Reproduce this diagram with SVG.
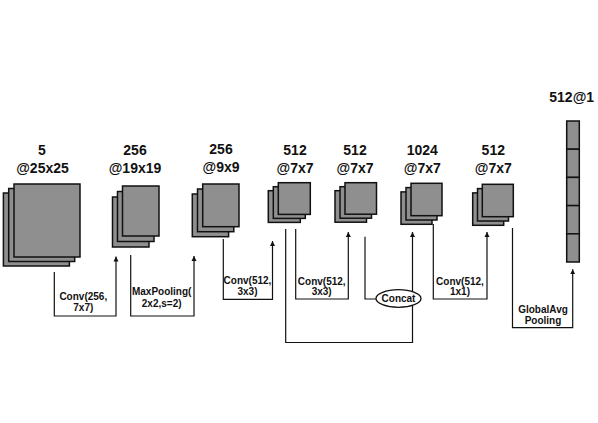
<svg xmlns="http://www.w3.org/2000/svg" width="598" height="423" viewBox="0 0 598 423">
<style>
.fm{fill:#8f8f8f;stroke:#111;stroke-width:1.5}
.hd{font-family:"Liberation Sans",Arial,sans-serif;font-weight:bold;font-size:14px;text-anchor:middle;fill:#111}
.sm{font-family:"Liberation Sans",Arial,sans-serif;font-weight:bold;font-size:10px;text-anchor:middle;fill:#111}
.ln{fill:none;stroke:#111;stroke-width:1.2}
</style>
<defs>
<marker id="ah" viewBox="0 0 10 10" refX="10" refY="5" markerWidth="5" markerHeight="7" markerUnits="userSpaceOnUse" orient="auto">
<path d="M0,0 L10,5 L0,10 z" fill="#111"/>
</marker>
</defs>
<rect width="598" height="423" fill="#fff"/>

<g id="n1">
<rect class="fm" x="3.4" y="193" width="66" height="73"/>
<rect class="fm" x="8.7" y="188.5" width="66" height="73"/>
<rect class="fm" x="14" y="184" width="66" height="73"/>
<text class="hd" x="42" y="155">5</text>
<text class="hd" x="42.5" y="173">@25x25</text>
</g>
<g id="n2">
<rect class="fm" x="112.5" y="197" width="36.5" height="50"/>
<rect class="fm" x="117.5" y="191.5" width="36.5" height="50"/>
<rect class="fm" x="122.5" y="186" width="36.5" height="50"/>
<text class="hd" x="135" y="155">256</text>
<text class="hd" x="135" y="173">@19x19</text>
</g>
<g id="n3">
<rect class="fm" x="192.3" y="194" width="36.3" height="42.7"/>
<rect class="fm" x="197.5" y="189" width="36.3" height="42.7"/>
<rect class="fm" x="202.7" y="184" width="36.3" height="42.7"/>
<text class="hd" x="221" y="153.5">256</text>
<text class="hd" x="221" y="171.7">@9x9</text>
</g>
<g id="n4">
<rect class="fm" x="268.3" y="190.7" width="32" height="31.7"/>
<rect class="fm" x="273.3" y="186.7" width="32" height="31.7"/>
<rect class="fm" x="278.3" y="182.7" width="32" height="31.7"/>
<text class="hd" x="295" y="155">512</text>
<text class="hd" x="295" y="172.7">@7x7</text>
</g>
<g id="n5">
<rect class="fm" x="335" y="190.7" width="31.5" height="31.5"/>
<rect class="fm" x="340" y="186.7" width="31.5" height="31.5"/>
<rect class="fm" x="345" y="182.7" width="31.5" height="31.5"/>
<text class="hd" x="355" y="155">512</text>
<text class="hd" x="355" y="172.7">@7x7</text>
</g>
<g id="n6">
<rect class="fm" x="401" y="191.9" width="31" height="32.4"/>
<rect class="fm" x="406" y="187.6" width="31" height="32.4"/>
<rect class="fm" x="411" y="183.3" width="31" height="32.4"/>
<text class="hd" x="422.3" y="155">1024</text>
<text class="hd" x="422.3" y="172.7">@7x7</text>
</g>
<g id="n7">
<rect class="fm" x="472.7" y="192.9" width="31" height="32.4"/>
<rect class="fm" x="477.5" y="188.6" width="31" height="32.4"/>
<rect class="fm" x="482.3" y="184.3" width="31" height="32.4"/>
<text class="hd" x="493.3" y="155">512</text>
<text class="hd" x="493.3" y="172.7">@7x7</text>
</g>
<g id="n8">
<rect class="fm" x="566.7" y="121" width="12.6" height="28.2"/>
<rect class="fm" x="566.7" y="149.2" width="12.6" height="28.2"/>
<rect class="fm" x="566.7" y="177.4" width="12.6" height="28.2"/>
<rect class="fm" x="566.7" y="205.6" width="12.6" height="28.2"/>
<rect class="fm" x="566.7" y="233.8" width="12.6" height="28.2"/>
<text class="hd" x="571.7" y="102">512@1</text>
</g>

<g id="connectors">
<path class="ln" d="M54.3,272 V316 H116 V256.5" marker-end="url(#ah)"/>
<path class="ln" d="M130.7,255 V316 H194 V256" marker-end="url(#ah)"/>
<path class="ln" d="M223.3,239 V299.3 H272.5 V241" marker-end="url(#ah)"/>
<path class="ln" d="M285.7,229 V342.5 H412.5 V232" marker-end="url(#ah)"/>
<path class="ln" d="M295.7,229 V299 H348.3 V232" marker-end="url(#ah)"/>
<path class="ln" d="M365,236.7 V299 H376"/>
<path class="ln" d="M433.3,224 V299 H487 V232" marker-end="url(#ah)"/>
<path class="ln" d="M512.5,228 V327.7 H572.7 V269.3" marker-end="url(#ah)"/>
</g>

<g id="concat">
<ellipse cx="398.5" cy="298.5" rx="22.5" ry="8.8" fill="#fff" stroke="#111" stroke-width="1.3"/>
<text class="sm" x="398.5" y="302">Concat</text>
</g>

<g id="labels">
<text class="sm" x="83.3" y="300">Conv(256,</text>
<text class="sm" x="83.3" y="311">7x7)</text>
<text class="sm" x="161.7" y="294.5">MaxPooling(</text>
<text class="sm" x="161.7" y="307">2x2,s=2)</text>
<text class="sm" x="247.5" y="284">Conv(512,</text>
<text class="sm" x="247.5" y="294.5">3x3)</text>
<text class="sm" x="321.7" y="285">Conv(512,</text>
<text class="sm" x="321.7" y="295">3x3)</text>
<text class="sm" x="460" y="285">Conv(512,</text>
<text class="sm" x="460" y="295">1x1)</text>
<text class="sm" x="543" y="313">GlobalAvg</text>
<text class="sm" x="543" y="324">Pooling</text>
</g>
</svg>
